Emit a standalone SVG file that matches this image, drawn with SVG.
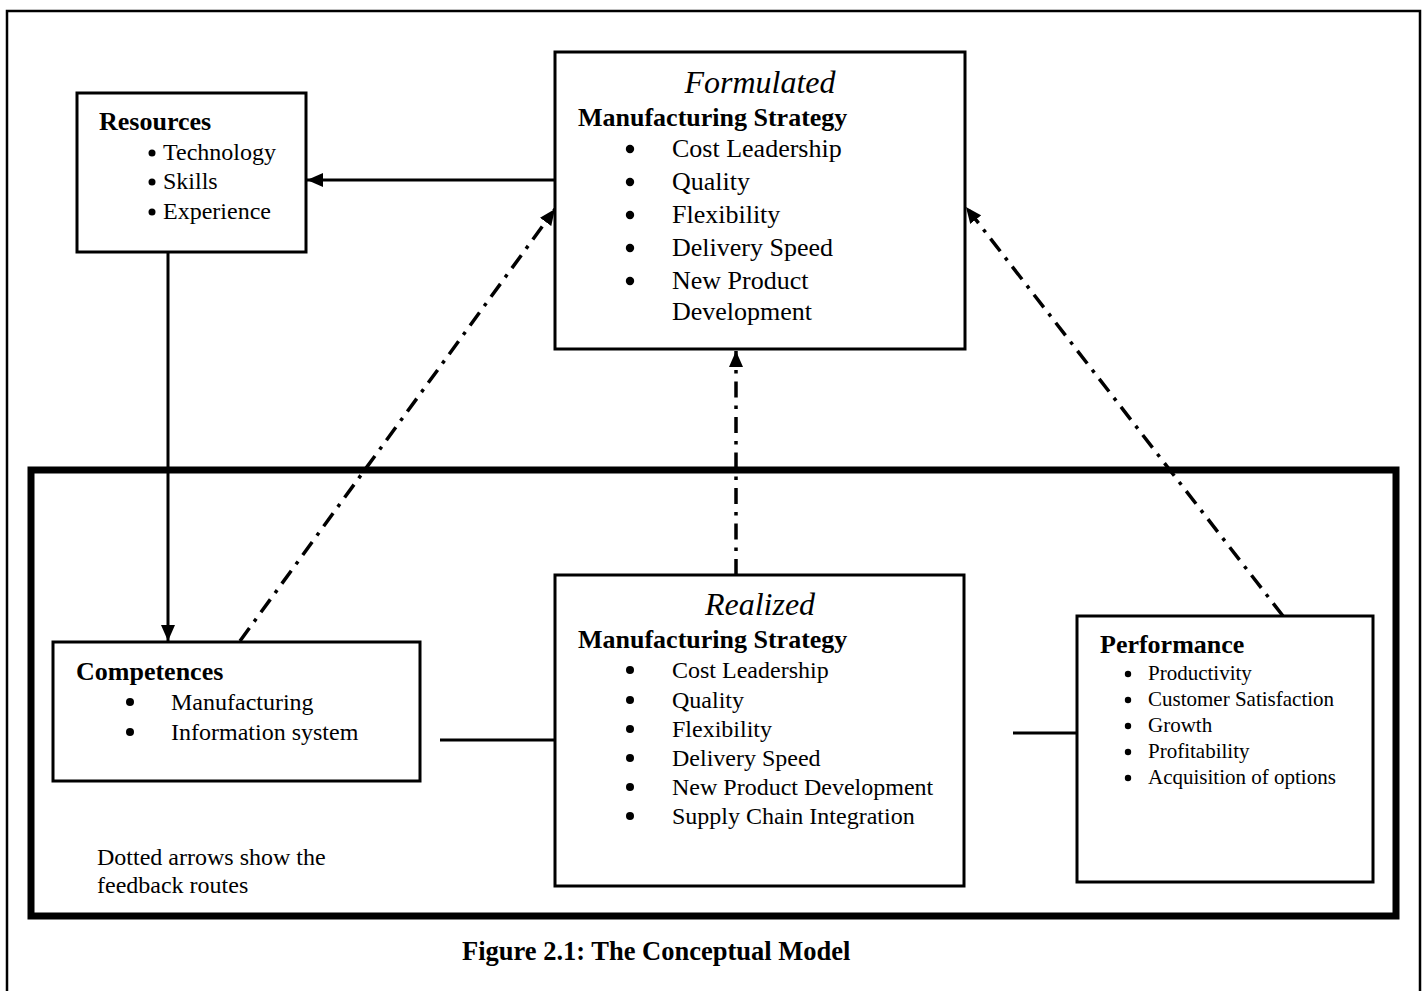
<svg xmlns="http://www.w3.org/2000/svg" width="1424" height="991" viewBox="0 0 1424 991">
  <style>
    text { font-family: "Liberation Serif", "Times New Roman", serif; fill: #000; }
    .box { fill: #fff; stroke: #000; stroke-width: 3; }
    .title { font-size: 26px; font-weight: bold; }
    .ital { font-size: 32px; font-style: italic; }
    .it26 { font-size: 26px; }
    .it24 { font-size: 24px; }
    .it21 { font-size: 21px; }
    .dot { fill: #000; }
    .solid { stroke: #000; stroke-width: 3; fill: none; }
    .dashdot { stroke: #000; stroke-width: 3.5; fill: none; stroke-dasharray: 16 8 3.5 8; }
  </style>
  <defs>
    <marker id="head" viewBox="0 0 10 10" refX="10" refY="5" markerWidth="5" markerHeight="5" markerUnits="userSpaceOnUse" orient="auto" style="overflow:visible">
      <path d="M0,0 L10,5 L0,10 Z" fill="#000" transform="scale(1)"/>
    </marker>
    <marker id="tip" viewBox="0 0 16 14" refX="16" refY="7" markerWidth="16" markerHeight="14" markerUnits="userSpaceOnUse" orient="auto">
      <path d="M0,0 L16,7 L0,14 Z" fill="#000"/>
    </marker>
  </defs>

  <rect width="1424" height="991" fill="#fff"/>

  <!-- page border (open at the bottom) -->
  <path d="M7,991 L7,11 L1420,11 L1420,991" fill="none" stroke="#000" stroke-width="2.5"/>

  <!-- heavy frame around the realized side -->
  <rect x="31" y="470" width="1365" height="446" fill="none" stroke="#000" stroke-width="7"/>

  <g id="connectors">
    <line class="solid" x1="555" y1="180" x2="307" y2="180" marker-end="url(#tip)"/>
    <line class="solid" x1="168" y1="252" x2="168" y2="641" marker-end="url(#tip)"/>
    <line class="solid" x1="440" y1="740" x2="555" y2="740"/>
    <line class="solid" x1="1013" y1="733" x2="1077" y2="733"/>
    <line class="dashdot" x1="240" y1="641" x2="555" y2="209" marker-end="url(#tip)"/>
    <line class="dashdot" x1="736" y1="575" x2="736" y2="351" marker-end="url(#tip)"/>
    <line class="dashdot" x1="1283" y1="616" x2="966" y2="207" marker-end="url(#tip)"/>
  </g>

  <g id="resources">
    <rect class="box" x="77" y="93" width="229" height="159"/>
    <text class="title" x="99" y="130">Resources</text>
    <circle class="dot" cx="152" cy="153" r="3.5"/>
    <text class="it24" x="163" y="160">Technology</text>
    <circle class="dot" cx="152" cy="182" r="3.5"/>
    <text class="it24" x="163" y="189">Skills</text>
    <circle class="dot" cx="152" cy="212" r="3.5"/>
    <text class="it24" x="163" y="219">Experience</text>
  </g>

  <g id="formulated">
    <rect class="box" x="555" y="52" width="410" height="297"/>
    <text class="ital" x="760" y="93" text-anchor="middle">Formulated</text>
    <text class="title" x="578" y="126">Manufacturing Strategy</text>
    <circle class="dot" cx="630" cy="149" r="4.2"/>
    <text class="it26" x="672" y="157">Cost Leadership</text>
    <circle class="dot" cx="630" cy="182" r="4.2"/>
    <text class="it26" x="672" y="190">Quality</text>
    <circle class="dot" cx="630" cy="215" r="4.2"/>
    <text class="it26" x="672" y="223">Flexibility</text>
    <circle class="dot" cx="630" cy="248" r="4.2"/>
    <text class="it26" x="672" y="256">Delivery Speed</text>
    <circle class="dot" cx="630" cy="281" r="4.2"/>
    <text class="it26" x="672" y="289">New Product</text>
    <text class="it26" x="672" y="320">Development</text>
  </g>

  <g id="competences">
    <rect class="box" x="53" y="642" width="367" height="139"/>
    <text class="title" x="76" y="680">Competences</text>
    <circle class="dot" cx="130" cy="702" r="4"/>
    <text class="it24" x="171" y="710">Manufacturing</text>
    <circle class="dot" cx="130" cy="732" r="4"/>
    <text class="it24" x="171" y="740">Information system</text>
  </g>

  <g id="realized">
    <rect class="box" x="555" y="575" width="409" height="311"/>
    <text class="ital" x="760" y="615" text-anchor="middle">Realized</text>
    <text class="title" x="578" y="648">Manufacturing Strategy</text>
    <circle class="dot" cx="630" cy="670" r="4"/>
    <text class="it24" x="672" y="678">Cost Leadership</text>
    <circle class="dot" cx="630" cy="700" r="4"/>
    <text class="it24" x="672" y="708">Quality</text>
    <circle class="dot" cx="630" cy="729" r="4"/>
    <text class="it24" x="672" y="737">Flexibility</text>
    <circle class="dot" cx="630" cy="758" r="4"/>
    <text class="it24" x="672" y="766">Delivery Speed</text>
    <circle class="dot" cx="630" cy="787" r="4"/>
    <text class="it24" x="672" y="795">New Product Development</text>
    <circle class="dot" cx="630" cy="816" r="4"/>
    <text class="it24" x="672" y="824">Supply Chain Integration</text>
  </g>

  <g id="performance">
    <rect class="box" x="1077" y="616" width="296" height="266"/>
    <text class="title" x="1100" y="653">Performance</text>
    <circle class="dot" cx="1128" cy="674" r="3.2"/>
    <text class="it21" x="1148" y="680">Productivity</text>
    <circle class="dot" cx="1128" cy="700" r="3.2"/>
    <text class="it21" x="1148" y="706">Customer Satisfaction</text>
    <circle class="dot" cx="1128" cy="726" r="3.2"/>
    <text class="it21" x="1148" y="732">Growth</text>
    <circle class="dot" cx="1128" cy="752" r="3.2"/>
    <text class="it21" x="1148" y="758">Profitability</text>
    <circle class="dot" cx="1128" cy="778" r="3.2"/>
    <text class="it21" x="1148" y="784">Acquisition of options</text>
  </g>

  <g id="legend">
    <text class="it24" x="97" y="865">Dotted arrows show the</text>
    <text class="it24" x="97" y="893">feedback routes</text>
  </g>

  <text class="title" x="462" y="960" style="font-size:26.5px">Figure 2.1: The Conceptual Model</text>
</svg>
